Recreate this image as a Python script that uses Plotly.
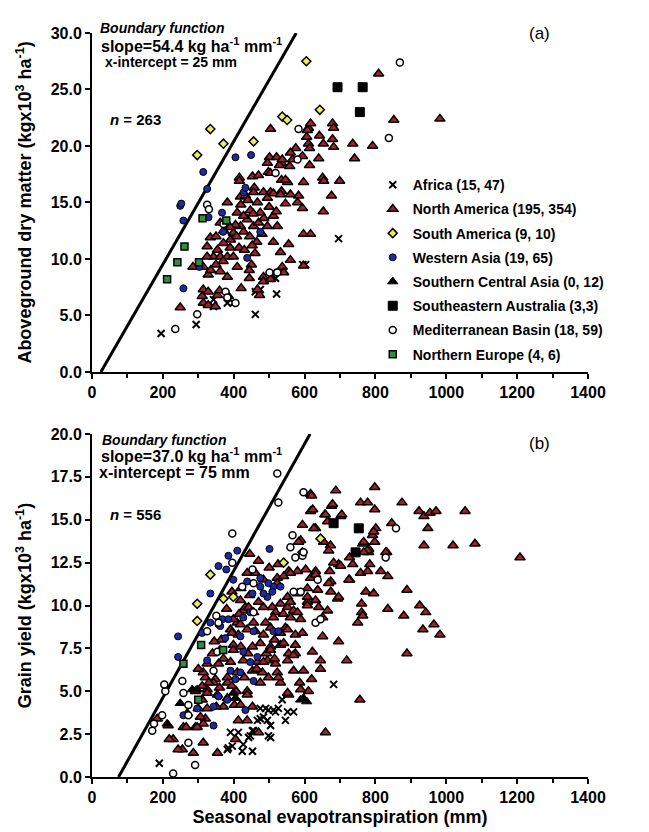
import numpy as np
import plotly.graph_objects as go

# ---------------- data (ET mm, yield kg x10^3/ha) ----------------
SERIES = ["Africa (15, 47)", "North America (195, 354)", "South America (9, 10)",
          "Western Asia (19, 65)", "Southern Central Asia (0, 12)",
          "Southeastern Australia (3,3)", "Mediterranean Basin (18, 59)", "Northern Europe (4, 6)"]

A_AFRICA = [(195,3.4),(294,4.2),(343,5.8),(343,6.4),(382,6.1),(399,6.1),(461,5.1),(461,7.1),(475,7.3),
            (509,8.8),(518,8.3),(521,6.9),(595,9.5),(603,9.5),(696,11.8)]
A_NORTH_AMERICA = [
    (809,26.4),(852,22.3),(792,20.0),(736,20.2),(741,18.9),(679,22.0),(682,21.6),(642,20.9),(653,20.2),
    (679,20.6),(682,19.9),(611,21.6),(617,22.0),(606,20.8),(611,20.2),(614,19.8),(640,18.9),(614,18.3),
    (651,17.2),(654,16.9),(699,16.9),(597,16.8),(575,19.8),(504,21.5),(501,19.0),(521,19.0),(535,18.5),
    (558,18.2),(566,18.8),(529,18.3),(416,17.2),(453,17.3),(470,17.4),(498,17.7),(535,17.0),(552,16.8),
    (458,16.3),(484,15.9),(504,15.9),(535,16.0),(583,15.6),(676,15.6),(982,22.4),(653,14.2),
    (594,14.5),(617,12.2),(597,12.2),(555,11.3),(560,9.9),(537,9.3),(597,9.4),(532,10.6),(512,11.5),
    (523,12.9),(512,13.8),(546,14.9),(580,15.0),(495,15.4),(467,15.0),(419,15.5),(382,15.0),(410,14.1),
    (447,14.3),(475,14.1),(495,12.9),(456,12.9),(438,13.5),(419,12.9),(399,12.3),(391,11.7),(371,11.4),
    (354,10.8),(343,10.2),(334,11.9),(325,11.1),(362,10.2),(382,10.2),(399,10.2),(410,9.3),(382,8.4),
    (362,8.9),(328,8.6),(325,10.2),(285,9.3),(314,9.3),(450,9.5),(444,9.0),(444,8.3),(421,7.4),(484,8.4),
    (484,8.0),(504,8.2),(541,8.8),(473,6.8),(467,7.3),(314,7.3),(311,6.7),(328,7.1),(354,6.8),(314,6.1),
    (328,5.9),(348,5.8),(249,5.7),(385,6.7),(433,15.6),(416,16.9),(495,18.5),(537,18.8),(560,19.4),
    (608,21.4),(594,19.1),(546,17.0),(504,17.6),(456,15.9),(512,15.8),(532,15.7),(560,15.7),
    (405,13.0),(428,13.8),(445,12.0),(465,11.5),(390,12.8),(415,11.0),(430,10.8),(460,10.5),(480,12.2),
    (372,12.5),(350,9.5),(370,9.8),(390,11.0),(420,14.8),(440,15.2),(455,14.0),(470,13.2),(485,13.6),
    (500,14.6),(520,14.2),(350,12.0),(362,13.2),(408,12.0),(428,12.4),(452,11.2),(335,9.0),(360,7.2)]
A_SOUTH_AMERICA = [(297,19.2),(334,21.5),(371,20.2),(456,20.4),(537,22.6),(551,22.3),(605,27.5),(643,23.2)]
A_WESTERN_ASIA = [(325,16.2),(314,17.7),(405,19.0),(449,19.2),(428,15.9),(249,14.7),(252,14.9),(258,13.4),
                  (258,7.4),(303,9.3),(329,13.7),(367,14.1),(370,12.4),(438,10.1),(475,12.4),(433,16.3)]
A_SOUTHERN_CENTRAL_ASIA = []
A_SE_AUSTRALIA = [(693,25.2),(764,25.2),(756,23.0)]
A_MEDITERRANEAN = [(869,27.4),(838,20.7),(583,21.5),(580,18.8),(518,17.6),(235,3.8),(297,5.1),(325,14.8),
                   (330,14.4),(371,13.1),(377,7.1),(382,6.6),(405,6.1),(501,8.8),(523,8.8)]
A_NORTHERN_EUROPE = [(212,8.2),(241,9.7),(261,11.1),(302,9.7),(312,13.6),(379,13.4)]

B_AFRICA = [(453,1.5),(391,2.6),(396,1.8),(385,1.7),(447,2.4),(442,2.3),(453,2.7),(484,3.5),(498,3.9),
            (512,3.9),(504,3.0),(498,2.4),(495,3.3),(526,4.0),(537,4.5),(546,3.3),(552,3.8),(475,4.0),
            (467,3.3),(413,2.6),(427,1.9),(424,1.5),(382,1.6),(682,5.4),(190,0.8),(504,2.3),(518,3.8),
            (490,4.0),(475,3.4),(456,2.7),(569,3.8)]
B_NORTH_AMERICA = [
    (688,16.7),(798,16.9),(758,16.0),(778,16.0),(875,16.0),(798,15.6),(676,15.8),(657,15.3),(702,15.2),
    (923,15.5),(937,15.2),(954,15.4),(971,15.5),(1053,15.5),(846,14.8),(948,14.5),(801,14.5),(792,14.1),
    (764,13.6),(798,13.7),(781,13.3),(781,13.1),(937,13.5),(1019,13.5),(1081,13.6),(1208,12.8),(832,13.1),
    (727,12.8),(736,12.4),(696,12.4),(758,11.9),(778,12.0),(784,12.4),(815,12.0),(835,11.7),(727,11.5),
    (671,12.0),(674,11.4),(674,10.8),(693,10.4),(773,10.8),(795,10.7),(889,10.9),(761,10.1),(761,9.6),
    (835,9.8),(880,9.4),(925,10.0),(942,9.6),(665,9.7),(750,9.0),(965,8.9),
    (934,8.6),(982,8.3),(696,7.9),(719,6.8),(889,7.2),(756,4.5),(659,2.6),(645,6.8),(645,6.3),(651,8.2),
    (622,7.3),(620,5.7),(611,5.0),(574,7.7),(574,7.2),(569,6.2),(586,5.5),(555,4.8),(532,5.5),(518,6.6),
    (523,6.1),(492,7.2),(475,5.5),(438,5.0),(407,5.0),(402,4.2),(371,4.1),(351,4.1),(325,4.0),(320,3.4),
    (292,2.9),(258,2.9),(255,1.6),(286,1.4),(354,1.4),(314,2.0),(413,3.3),(438,3.3),(470,2.6),
    (391,8.6),(413,8.3),(438,8.6),(461,8.5),(484,8.3),(504,8.7),(532,8.4),(546,8.7),(574,8.3),(594,8.4),
    (399,7.7),(453,7.6),(475,7.8),(504,7.6),(532,7.7),(555,7.2),(362,7.4),(340,7.2),(325,6.6),(357,6.6),
    (391,6.7),(427,6.8),(467,6.7),(495,6.8),(453,6.2),(481,6.1),(498,5.8),(526,5.8),(410,6.1),(382,5.8),
    (348,5.7),(320,5.8),(325,5.1),(354,4.8),(382,4.6),(311,4.5),(292,5.0),(300,4.0),(269,3.7),
    (617,16.5),(679,15.9),(659,15.3),(705,15.3),(617,15.5),(631,14.5),(594,14.7),(665,14.9),(795,14.3),
    (589,13.8),(654,13.7),(673,13.5),(668,13.2),(767,13.7),(778,13.2),(767,13.1),(829,13.1),(682,12.5),
    (702,12.3),(631,12.0),(617,11.6),(580,12.0),(555,12.0),(523,11.6),(608,11.0),(668,11.3),(725,11.5),
    (637,10.9),(640,9.9),(696,10.5),(764,9.4),(608,10.2),(580,10.7),(552,10.5),(532,10.1),(552,9.9),
    (509,9.9),(518,9.6),(651,9.3),(560,9.3),(589,9.2),(427,9.7),(456,9.6),(410,9.0),(433,9.9),(523,11.3),
    (620,16.4),(623,15.6),(626,14.5),(583,13.7),(560,11.9),(541,11.7),(603,12.1),(631,11.8),(608,10.5),
    (631,10.3),(438,11.9),(461,11.9),(484,11.5),(419,10.3),(442,9.9),(484,9.9),(569,9.7),(512,9.3),
    (399,9.2),(419,8.9),(456,9.0),
    (314,6.1),(311,5.3),(325,4.9),(306,3.5),(314,3.1),(297,2.9),(215,3.0),(229,2.2),(243,1.6),(184,3.4),
    (266,2.9),(218,2.2),(438,4.8),(419,4.2),(453,4.1),(552,6.8),(569,7.1),(597,6.2),(589,5.1),(552,4.9),
    (580,9.6),(608,10.0),(552,8.6),(541,7.8),(504,7.4),(484,6.7),(399,7.4),(371,6.9),(343,5.5),(382,5.5),
    (405,2.2),
    (365,8.0),(380,9.8),(395,10.8),(420,11.0),(445,10.6),(470,10.2),(490,9.0),(515,8.0),(440,7.2),
    (420,7.6),(360,5.2),(395,5.3),(430,5.8),(465,6.3),(515,6.9),(540,9.5),(560,10.2),(525,12.4),
    (470,12.6),(445,13.0),(500,12.2),(415,9.5),(395,8.4),(345,7.9),(330,5.5),(300,6.3)]
B_SOUTH_AMERICA = [(334,11.8),(297,10.1),(541,12.5),(594,13.1),(645,13.9),(297,9.1),(371,10.4),(399,10.5)]
B_WESTERN_ASIA = [(385,12.9),(410,13.2),(357,12.3),(379,12.1),(334,10.7),(438,11.4),(501,13.3),(453,10.7),
                  (475,11.1),(512,11.1),(495,10.5),(368,9.2),(447,9.6),(399,11.5),(475,11.6),(498,11.3),
                  (484,10.7),(509,10.8),(532,11.1),(385,9.2),(357,8.9),(427,9.3),(243,8.2),(243,7.0),
                  (311,8.4),(334,9.0),(376,8.1),(362,8.8),(419,8.2),(456,8.5),(427,7.3),(447,6.7),
                  (467,7.0),(419,6.1),(405,5.7),(456,5.6),(357,4.7),(382,4.5),(343,4.1),(297,4.0),
                  (258,3.6),(343,3.0),(433,3.9),(325,6.8),(391,6.2),(512,8.5),(526,8.5)]
B_SOUTHERN_CENTRAL_ASIA = [(249,4.3),(283,5.1),(297,5.1),(212,3.1),(399,4.9),(405,4.6),(597,4.6),
                           (589,4.5),(606,4.4)]
B_SE_AUSTRALIA = [(682,14.8),(753,14.5),(744,13.1)]
B_MEDITERRANEAN = [(523,17.7),(526,16.0),(597,16.6),(396,14.2),(396,12.5),(560,13.4),(566,14.1),(594,12.9),
                   (453,12.1),(574,12.8),(597,13.1),(637,11.5),(589,10.8),(569,10.8),(456,11.3),(631,9.0),
                   (858,14.5),(829,12.8),(424,11.1),(351,9.4),(357,9.0),(325,8.5),(255,5.6),(258,4.9),
                   (272,3.6),(207,5.0),(204,5.4),(198,3.6),(175,3.1),(170,2.7),(272,2.0),(229,0.2),
                   (291,0.7),(343,6.2),(354,7.3),(272,4.2),(456,9.6),(645,9.2)]
B_NORTHERN_EUROPE = [(258,6.6),(308,7.7),(300,4.5),(370,7.4)]

# boundary functions: slope (kg/ha/mm) and x-intercept (mm)
BOUNDARY_A = (54.4, 25)
BOUNDARY_B = (37.0, 75)

X_TICKS = [0, 200, 400, 600, 800, 1000, 1200, 1400]
Y_TICKS_A = [0, 5, 10, 15, 20, 25, 30]
Y_TICKS_B = [0, 2.5, 5, 7.5, 10, 12.5, 15, 17.5, 20]

# ---------------- styles ----------------
STYLES = [
    dict(symbol="x-thin", size=7, color="black", line=dict(color="black", width=2)),
    dict(symbol="triangle-up", size=9, color="#a3202c", line=dict(color="black", width=1.5)),
    dict(symbol="diamond", size=7, color="#e8ee5c", line=dict(color="black", width=1.5)),
    dict(symbol="circle", size=7, color="#1c2ca0", line=dict(color="black", width=1)),
    dict(symbol="triangle-up", size=9, color="black", line=dict(color="black", width=1)),
    dict(symbol="square", size=9, color="black", line=dict(color="black", width=1)),
    dict(symbol="circle", size=7, color="white", line=dict(color="black", width=1.5)),
    dict(symbol="square", size=7, color="#2f8f3c", line=dict(color="black", width=1.5)),
]

A_DATA = [A_AFRICA, A_NORTH_AMERICA, A_SOUTH_AMERICA, A_WESTERN_ASIA, A_SOUTHERN_CENTRAL_ASIA,
          A_SE_AUSTRALIA, A_MEDITERRANEAN, A_NORTHERN_EUROPE]
B_DATA = [B_AFRICA, B_NORTH_AMERICA, B_SOUTH_AMERICA, B_WESTERN_ASIA, B_SOUTHERN_CENTRAL_ASIA,
          B_SE_AUSTRALIA, B_MEDITERRANEAN, B_NORTHERN_EUROPE]

FONT = "Liberation Sans, Arial, sans-serif"
fig = go.Figure()

def xy(pts):
    return [p[0] for p in pts], [p[1] for p in pts]

def boundary(slope, intercept, ymax):
    ys = np.array([0.0, ymax])
    xs = intercept + ys / (slope / 1000.0)
    return xs, ys

xa, ya = boundary(*BOUNDARY_A, Y_TICKS_A[-1])
fig.add_trace(go.Scatter(x=xa, y=ya, mode="lines", line=dict(color="black", width=3),
                         showlegend=False, xaxis="x", yaxis="y", hoverinfo="skip"))
xb, yb = boundary(*BOUNDARY_B, Y_TICKS_B[-1])
fig.add_trace(go.Scatter(x=xb, y=yb, mode="lines", line=dict(color="black", width=3),
                         showlegend=False, xaxis="x2", yaxis="y2", hoverinfo="skip"))

for name, pts, st in zip(SERIES, A_DATA, STYLES):
    x, y = xy(pts)
    fig.add_trace(go.Scatter(x=x, y=y, mode="markers", name=name, marker=st,
                             showlegend=False, xaxis="x", yaxis="y"))
for i, (name, pts, st) in enumerate(zip(SERIES, B_DATA, STYLES)):
    x, y = xy(pts)
    fig.add_trace(go.Scatter(x=x, y=y, mode="markers", name=name, marker=st, legendgroup=f"g{i}",
                             showlegend=True, xaxis="x2", yaxis="y2"))

axis_common = dict(showline=True, linecolor="black", linewidth=2, ticks="outside", ticklen=5,
                   tickwidth=2, tickcolor="black", showgrid=False, zeroline=False, automargin=False,
                   tickfont=dict(family=FONT, size=16, color="black", weight="bold"))
x_common = dict(axis_common, range=[0, 1400], tickvals=X_TICKS, ticktext=[str(v) for v in X_TICKS],
                minor=dict(dtick=100, ticks="outside", ticklen=4, tickwidth=1.5, tickcolor="black",
                           showgrid=False))

title_font = dict(family=FONT, size=18, color="black", weight="bold")
fig.update_layout(
    width=649, height=832,
    margin=dict(l=92, r=61, t=33, b=55),
    paper_bgcolor="white", plot_bgcolor="white",
    font=dict(family=FONT, color="black"),
    xaxis=dict(x_common, domain=[0, 1], anchor="y"),
    yaxis=dict(axis_common, domain=[0.5444, 1], anchor="x", range=[0, 30], tickvals=Y_TICKS_A,
               tickformat=".1f",
               title=dict(text="Aboveground dry matter (kgx10<sup>3</sup> ha<sup>-1</sup>)",
                          font=title_font, standoff=14)),
    xaxis2=dict(x_common, domain=[0, 1], anchor="y2",
                title=dict(text="Seasonal evapotranspiration (mm)", font=title_font, standoff=5)),
    yaxis2=dict(axis_common, domain=[0, 0.461], anchor="x2", range=[0, 20], tickvals=Y_TICKS_B,
                tickformat=".1f",
                title=dict(text="Grain yield (kgx10<sup>3</sup> ha<sup>-1</sup>)",
                           font=title_font, standoff=14)),
    legend=dict(x=0.566, y=0.817, xanchor="left", yanchor="top", tracegroupgap=3,
                font=dict(family=FONT, size=14, color="black", weight="bold"),
                bgcolor="rgba(0,0,0,0)"),
    showlegend=True,
)

def ann(text, x, y, size, xanchor="left", weight="bold", italic=False):
    t = f"<i>{text}</i>" if italic else text
    fig.add_annotation(text=t, x=x, y=y, xref="paper", yref="paper", xanchor=xanchor, yanchor="middle",
                       showarrow=False, font=dict(family=FONT, size=size, color="black", weight=weight))

ann("Boundary function", 0.0121, 1.0067, 14, italic=True)
ann(f"slope={BOUNDARY_A[0]:.1f} kg ha<sup>-1</sup> mm<sup>-1</sup>", 0.0141, 0.9839, 16)
ann(f"x-intercept = {BOUNDARY_A[1]} mm", 0.0222, 0.961, 14)
ann("<i>n</i> = 263", 0.0323, 0.8844, 15)
ann("(a)", 0.903, 1.0, 17, xanchor="center", weight="normal")

ann("Boundary function", 0.0161, 0.4530, 14, italic=True)
ann(f"slope={BOUNDARY_B[0]:.1f} kg ha<sup>-1</sup> mm<sup>-1</sup>", 0.0141, 0.4328, 16)
ann(f"x-intercept = {BOUNDARY_B[1]} mm", 0.0101, 0.4099, 16)
ann("<i>n</i> = 556", 0.0323, 0.3522, 15)
ann("(b)", 0.903, 0.4489, 17, xanchor="center", weight="normal")

fig.write_html("out.html", config={"displayModeBar": False},
               post_script="document.body.style.margin='0';document.body.style.overflow='hidden';")
